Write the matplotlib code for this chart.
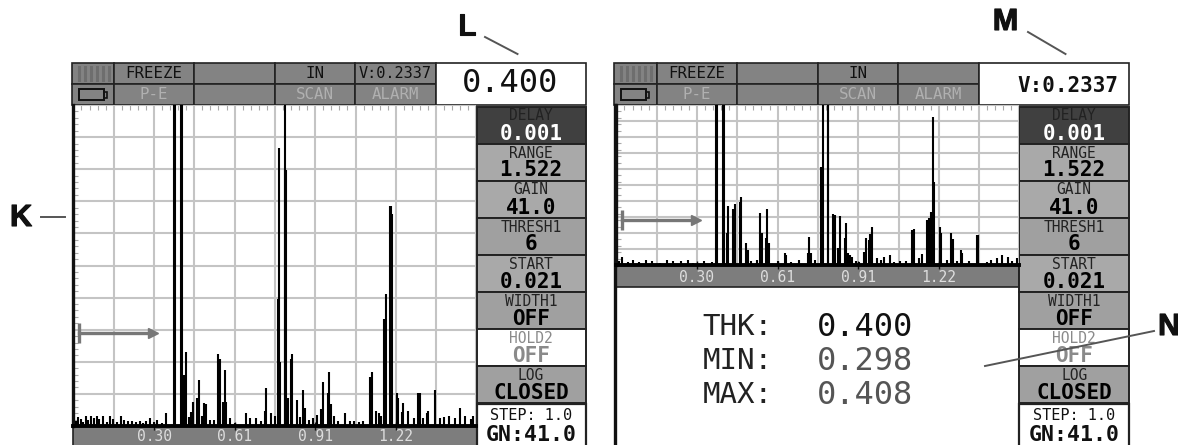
import matplotlib
matplotlib.use("Agg")
import matplotlib.pyplot as plt
from matplotlib.patches import Rectangle
import matplotlib.patheffects as pe

W, H = 1178, 445
MONO = "DejaVu Sans Mono"

# thickness / amplitude of the spikes
left_x = [0.379, 0.383, 0.405, 0.409, 0.419, 0.425, 0.444, 0.450, 0.467, 0.473, 0.493, 0.499, 0.547, 0.552,
          0.565, 0.571, 0.575, 0.723, 0.729, 0.773, 0.778, 0.782, 0.798, 0.801, 0.804, 0.809, 0.821, 0.827,
          0.843, 0.869, 0.875, 0.935, 0.941, 0.960, 0.966, 0.971, 1.120, 1.126, 1.143, 1.174, 1.180, 1.197,
          1.200, 1.203, 1.221, 1.227, 1.246, 1.265, 1.302, 1.308, 1.334, 1.340, 1.364, 1.460]
left_amp = [100, 100, 100, 100, 15.9, 23, 4.5, 7.4, 8.8, 14.3, 7.2, 6.7, 22.3, 20.8,
            7.4, 17.3, 7.4, 4.7, 11.7, 39.6, 86.7, 19.8, 79.7, 100, 79.7, 8.8, 20.8, 22.3,
            8.1, 11.3, 5.7, 5.3, 13.8, 10.2, 16.8, 6.9, 15.3, 16.8, 4.7, 33.3, 41, 68.6,
            68.6, 66, 10.2, 8.8, 7.2, 4.7, 10.3, 10.3, 4, 4.7, 11.3, 5.7]
left_noise_x = [0.010, 0.018, 0.028, 0.036, 0.046, 0.056, 0.066, 0.076, 0.088, 0.098, 0.112, 0.126, 0.140, 0.150,
                0.165, 0.180, 0.190, 0.205, 0.220, 0.235, 0.250, 0.262, 0.276, 0.290, 0.305, 0.315, 0.335, 0.350,
                0.435, 0.485, 0.515, 0.530, 0.590, 0.610, 0.650, 0.668, 0.690, 0.710, 0.745, 0.760, 0.855, 0.888,
                0.905, 0.920, 0.985, 1.000, 1.025, 1.045, 1.060, 1.080, 1.095, 1.155, 1.160, 1.240, 1.285, 1.320,
                1.385, 1.400, 1.420, 1.440, 1.480, 1.500, 1.510]
left_noise_amp = [1.5, 2.8, 2.2, 1.4, 3, 2, 3.2, 2.4, 3.1, 2.2, 3, 1.2, 3, 2.2,
                  1.2, 3.1, 2, 1.6, 1.5, 1.4, 1.6, 1, 1.7, 2.5, 1.2, 1.8, 1, 4,
                  2.8, 3, 2, 1.8, 2.5, 1, 4, 2.5, 2.5, 1.5, 4, 3, 2.8, 2,
                  2.6, 3.4, 3, 1.6, 4, 1.5, 1.6, 1.2, 1.6, 4, 3, 4.5, 2.4, 2.6,
                  2.5, 2.8, 3, 2.6, 3.2, 2.2, 3]

right_x = [0.377, 0.381, 0.403, 0.407, 0.417, 0.423, 0.440, 0.447, 0.465, 0.472, 0.491, 0.496, 0.544, 0.550,
           0.564, 0.570, 0.576, 0.637, 0.642, 0.723, 0.729, 0.734, 0.771, 0.777, 0.781, 0.798, 0.801, 0.818,
           0.825, 0.838, 0.843, 0.863, 0.869, 0.875, 0.884, 0.891, 0.935, 0.941, 0.954, 0.959, 0.965, 0.983,
           1.009, 1.032, 1.116, 1.123, 1.142, 1.156, 1.173, 1.180, 1.190, 1.196, 1.201, 1.221, 1.227, 1.264,
           1.270, 1.301, 1.307, 1.362, 1.365, 1.437, 1.458]
right_amp = [100, 100, 100, 100, 19.8, 36.9, 34.8, 38, 39.6, 42.7, 13.5, 9.4, 32.7, 19.8,
             16.7, 34.8, 13.5, 7.3, 6.3, 7.3, 17.7, 7.7, 61.5, 10.8, 100, 100, 100, 31.9,
             31.3, 10.4, 30.6, 16.7, 26, 7.3, 6.3, 5.2, 8.3, 16.7, 15.6, 19.2, 24, 4.2,
             5.2, 6.3, 21.9, 22.7, 4.2, 6.7, 28, 29.6, 32.9, 92.7, 52, 24, 19.8, 19.8,
             16, 9.4, 7.3, 18.8, 18.8, 4.2, 6.3]
right_noise_x = [0.008, 0.022, 0.042, 0.062, 0.085, 0.110, 0.135, 0.165, 0.190, 0.215, 0.245, 0.270, 0.290, 0.330,
                 0.360, 0.510, 0.530, 0.610, 0.660, 0.690, 0.750, 0.905, 0.915, 1.000, 1.050, 1.070, 1.095, 1.250,
                 1.285, 1.330, 1.400, 1.415, 1.478, 1.495, 1.512]
right_noise_amp = [2.5, 5, 2, 3, 2, 3, 2.5, 1.5, 3, 2.5, 2.4, 3, 1.2, 2.4,
                   2, 2.5, 3, 2.8, 2, 3.2, 3, 2.8, 2, 3, 2, 2.6, 2.2, 3,
                   2.6, 2.6, 2, 3, 5, 2.5, 4.5]

tick_values = [0.1522 * k for k in range(11)]
tick_labels = ["", "", "0.30", "", "0.61", "", "0.91", "", "1.22", "", ""]

panel_labels = ["DELAY", "RANGE", "GAIN", "THRESH1", "START", "WIDTH1", "HOLD2", "LOG"]
panel_values = ["0.001", "1.522", "41.0", "6", "0.021", "OFF", "OFF", "CLOSED"]
readout_names = ["THK:", "MIN:", "MAX:"]
readout_values = ["0.400", "0.298", "0.408"]
gate_start, gate_end = 0.021, 0.30


def rect(ax, x0, y0, x1, y1, fc, ec="#222222", lw=1.0, z=1):
    ax.add_patch(Rectangle((x0, y0), x1 - x0, y1 - y0, fc=fc, ec=ec, lw=lw, zorder=z))


def scope(fig, x0, base, sx, sn, amp_n, gate_amp, tick_step, label_pad):
    top = 105
    ax = fig.add_axes([x0 / W, 1 - base / H, 403 / W, (base - top) / H])
    ax.patch.set_alpha(0)
    ax.set_xlim(0, 1.522)
    ax.set_ylim(0, 100)
    ax.vlines(sx[0], 0, sx[1], color="#000000", lw=1.5, zorder=3)
    ax.vlines(sn, 0, amp_n, color="#000000", lw=1.5, zorder=3)
    ax.set_xticks(tick_values)
    ax.set_xticklabels(tick_labels, family=MONO, fontsize=10.5, color="#dddddd")
    ax.set_yticks(range(0, 101, 10))
    ax.set_yticklabels([])
    ax.set_xticks([0.03044 * k for k in range(51)], minor=True)
    ax.set_yticks([tick_step * k for k in range(int(100 / tick_step) + 1)], minor=True)
    ax.grid(True, which="major", color="#c4c4c4", lw=1.5, zorder=0)
    ax.set_axisbelow(True)
    ax.tick_params(which="major", length=0, pad=label_pad)
    ax.tick_params(which="minor", direction="in", length=3.5, width=0.8, color="#aaaaaa",
                   top=True, left=True, bottom=False)
    for s in ("top", "right"):
        ax.spines[s].set_visible(False)
    ax.spines["bottom"].set_linewidth(2.8)
    ax.spines["left"].set_linewidth(2.4)
    ax.spines["bottom"].set_color("#000000")
    ax.spines["left"].set_color("#111111")
    # small ticks under the labelled divisions
    ax.plot(tick_values[2:9:2], [0] * 4, ls="", marker="|", ms=6, mew=1, color="#111111", clip_on=False, zorder=2)
    # gain gate
    ax.plot([gate_start, gate_end], [gate_amp, gate_amp], color="#777777", lw=2.4, zorder=4)
    ax.plot([gate_start], [gate_amp], marker="|", ms=14, mew=2.4, color="#777777", zorder=4)
    ax.plot([gate_end], [gate_amp], marker=">", ms=6.5, color="#777777", mec="#777777", zorder=4)
    return ax


def side_panels(ax, x0, x1):
    tops = [106.5, 143.5, 180.5, 217.5, 255, 292, 329, 366]
    for i, (lab, val) in enumerate(zip(panel_labels, panel_values)):
        fc, lc, vc = "#a9a9a9", "#222222", "#000000"
        if lab == "DELAY":
            fc, lc, vc = "#404040", "#222222", "#ffffff"
        if lab == "HOLD2":
            fc, lc, vc = "#ffffff", "#8a8a8a", "#8a8a8a"
        if lab == "WIDTH1" or lab == "LOG" or lab == "THRESH1":
            fc = "#a0a0a0"
        rect(ax, x0, tops[i], x1, tops[i] + 37, fc, lw=1.4)
        cx = (x0 + x1) / 2
        ax.text(cx, tops[i] + 9.5, lab, family=MONO, fontsize=10.5, color=lc, ha="center", va="center")
        ax.text(cx, tops[i] + 27, val, family=MONO, fontsize=15, weight="bold", color=vc, ha="center", va="center")
    rect(ax, x0, 404, x1, 447, "#ffffff", lw=1.6)
    cx = (x0 + x1) / 2
    ax.text(cx, 416, "STEP: 1.0", family=MONO, fontsize=11, ha="center", va="center", color="#111111")
    ax.text(cx, 435, "GN:41.0", family=MONO, fontsize=15.5, weight="bold", ha="center", va="center", color="#111111")


def header(ax, xs, x1, v_text):
    rows = [63, 83.5, 105]
    for r in range(2):
        for c in range(5):
            rect(ax, xs[c], rows[r], xs[c + 1], rows[r + 1], "#838383", lw=1.2)
    rect(ax, xs[5], 63, x1, 105, "#ffffff", lw=1.2)
    mid = [(xs[i] + xs[i + 1]) / 2 for i in range(5)]
    ax.text(mid[1], 73.5, "FREEZE", family=MONO, fontsize=11.3, ha="center", va="center", color="#111111")
    ax.text(mid[3], 73.5, "IN", family=MONO, fontsize=11.3, ha="center", va="center", color="#111111")
    ax.text(mid[1], 94.5, "P-E", family=MONO, fontsize=11.3, ha="center", va="center", color="#b0b0b0")
    ax.text(mid[3], 94.5, "SCAN", family=MONO, fontsize=11.3, ha="center", va="center", color="#b0b0b0")
    ax.text(mid[4], 94.5, "ALARM", family=MONO, fontsize=11.3, ha="center", va="center", color="#b0b0b0")
    if v_text:
        ax.text(mid[4], 73.5, v_text, family=MONO, fontsize=11, ha="center", va="center", color="#111111")
    # battery and bar glyphs
    rect(ax, xs[0] + 7, 89, xs[0] + 32, 100, "none", ec="#111111", lw=1.4, z=3)
    rect(ax, xs[0] + 32, 91.5, xs[0] + 35, 97.5, "none", ec="#111111", lw=1.2, z=3)
    for k in range(6):
        ax.plot([xs[0] + 7 + k * 6] * 2, [67, 80], color="#6e6e6e", lw=2.2, zorder=3)


fig = plt.figure(figsize=(W / 100, H / 100), dpi=100, facecolor="white")
ui = fig.add_axes([0, 0, 1, 1])
ui.set_xlim(0, W)
ui.set_ylim(H, 0)
ui.axis("off")

# left instrument
header(ui, [72, 113.7, 194, 274.8, 355, 436], 585.5, "V:0.2337")
ui.text(510.5, 84, "0.400", family=MONO, fontsize=23, ha="center", va="center", color="#111111")
rect(ui, 73, 426, 476.5, 447, "#7d7d7d", lw=1.2)
side_panels(ui, 476.5, 585.5)
scope(fig, 73.4, 426, (left_x, left_amp), left_noise_x, left_noise_amp, 29, 2, 2)

# right instrument
header(ui, [614.4, 656.7, 737, 817.6, 898, 978.5], 1129, None)
ui.text(1068, 85.5, "V:0.2337", family=MONO, fontsize=15, weight="bold", ha="center", va="center", color="#111111")
rect(ui, 615.5, 265, 1019.3, 287, "#7d7d7d", lw=1.2)
ui.plot([615, 615], [105, 447], color="#111111", lw=2.4)
side_panels(ui, 1019.3, 1129)
scope(fig, 616.4, 265, (right_x, right_amp), right_noise_x, right_noise_amp, 28, 4, 3.5)

for i in range(3):
    y = 327 + i * 34
    shade = "#111111" if i == 0 else "#555555"
    ui.text(702.5, y, readout_names[i], family=MONO, fontsize=21, ha="left", va="center", color="#222222")
    ui.text(817, y, readout_values[i], family=MONO, fontsize=23, ha="left", va="center", color=shade)

# callouts
callouts = [("L", 467, 27, (485, 517.5), (37, 54)),
            ("M", 1005.5, 22, (1028, 1065.5), (32, 54)),
            ("K", 21, 218, (41, 65), (217, 217)),
            ("N", 1169, 327, (985, 1154), (366, 331))]
for name, tx, ty, lx, ly in callouts:
    t = ui.text(tx, ty, name, family="Liberation Sans", weight="bold", fontsize=22, ha="center", va="center", color="#111111")
    t.set_path_effects([pe.withStroke(linewidth=0.8, foreground="#111111")])
    ui.plot(lx, ly, color="#555555", lw=1.4, zorder=6)

fig.savefig("out.png", dpi=100)
